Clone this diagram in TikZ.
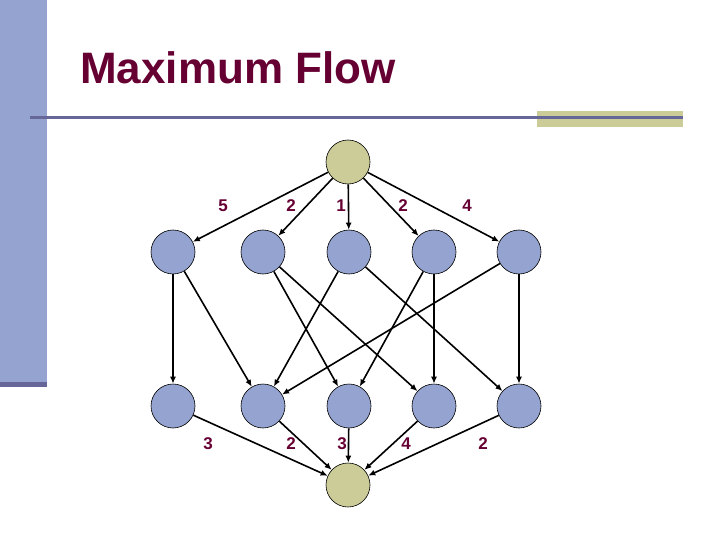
\documentclass[tikz,border=0pt]{standalone}
\usepackage{fontspec}
\setmainfont{Liberation Sans}
\usepackage{tikz}
\usetikzlibrary{arrows.meta}
\definecolor{SlideBlue}{HTML}{94A3CF}
\definecolor{SlideSlate}{HTML}{666699}
\definecolor{SlideKhaki}{HTML}{CCCC99}
\definecolor{SlideMaroon}{HTML}{660033}
\tikzset{
  vtx/.style={circle, draw=black, line width=0.6pt, fill=SlideBlue,
    minimum size=44pt, inner sep=0pt},
  term/.style={vtx, fill=SlideKhaki},
  flow/.style={->, line width=1.6pt},
  weight/.style={font=\fontsize{17}{19}\selectfont\bfseries, text=SlideMaroon, inner sep=0pt}
}

\begin{document}
\begin{tikzpicture}[x=1pt, y=-1pt, >={Latex[length=7pt,width=6pt]}]
  \useasboundingbox (0,0) rectangle (720,540);
  % Slide frame
  \fill[SlideBlue] (0,0) rectangle (47,382);
  \fill[SlideSlate] (0,382) rectangle (47,387);
  \fill[SlideKhaki] (537,111) rectangle (683,127);
  \draw[SlideSlate, line width=3pt] (30,117.5) -- (683,117.5);
  \node[anchor=base west, text=SlideMaroon, inner sep=0pt,
    font=\fontsize{44}{50}\selectfont\bfseries] (title) at (80,84) {Maximum Flow};
  % Source, sink and the two middle rows
  \node[term] (s) at (348,162) {};
  \node[term] (k) at (348,485) {};
  \foreach \i/\x in {1/173,2/263,3/349,4/434,5/519} {
    \node[vtx] (t\i) at (\x,252) {};
    \node[vtx] (b\i) at (\x,406) {};
  }
  % Edges
  \foreach \i in {1,...,5} {
    \draw[flow] (s) -- (t\i);
    \draw[flow] (b\i) -- (k);
  }
  \foreach \a/\b in {1/1,1/2,2/3,2/4,3/2,3/5,4/3,4/4,5/2,5/5}
    \draw[flow] (t\a) -- (b\b);
  % Capacities
  \node[weight] (w1) at (223,206) {5};
  \node[weight] (w2) at (291,206) {2};
  \node[weight] (w3) at (341,206) {1};
  \node[weight] (w4) at (403,206) {2};
  \node[weight] (w5) at (467,206) {4};
  \node[weight] (v1) at (208,444) {3};
  \node[weight] (v2) at (291,444) {2};
  \node[weight] (v3) at (342,444) {3};
  \node[weight] (v4) at (406,444) {4};
  \node[weight] (v5) at (483,444) {2};
\end{tikzpicture}
\end{document}
